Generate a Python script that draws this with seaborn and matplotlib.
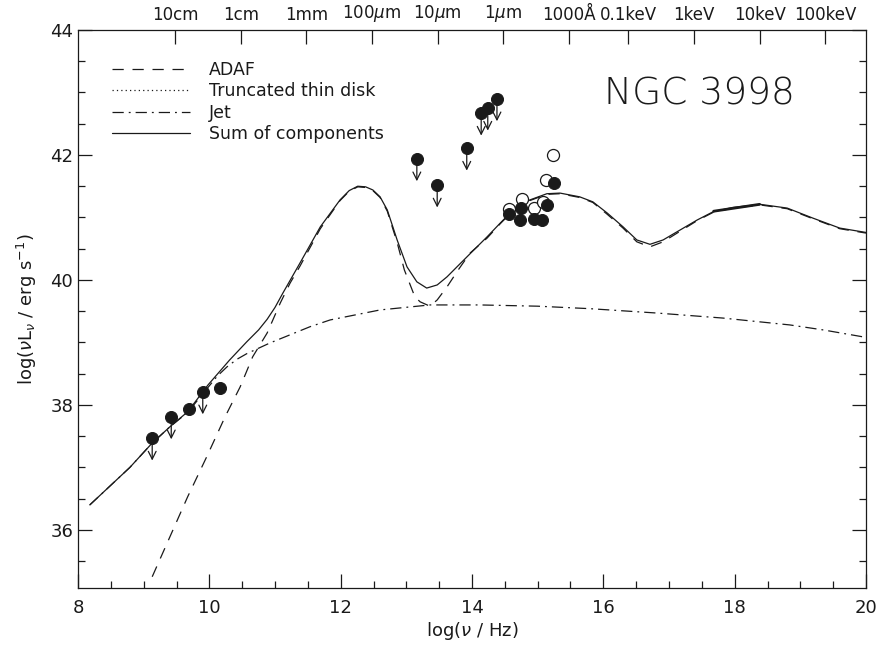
import numpy as np
import pandas as pd
import matplotlib
matplotlib.use("Agg")
import matplotlib.pyplot as plt
import seaborn as sns
from matplotlib.lines import Line2D

# ---------------- data ----------------
sum_x = [8.18, 8.79, 9.13, 9.40, 9.67, 9.98, 10.31, 10.57, 10.75, 10.88, 11.00, 11.12, 11.38, 11.69, 11.99,
         12.13, 12.26, 12.38, 12.49, 12.60, 12.71, 12.86, 13.01, 13.16, 13.31, 13.47, 13.62,
         13.80, 14.00, 14.23, 14.43, 14.58, 14.68, 14.88, 15.14, 15.34, 15.64, 15.84, 16.06,
         16.30, 16.51, 16.71, 16.91, 17.17, 17.43, 17.67, 17.97, 18.39, 18.80, 19.19, 19.60, 20.0]
sum_y = [36.40, 37.00, 37.39, 37.65, 37.89, 38.32, 38.72, 39.01, 39.20, 39.37, 39.56, 39.79, 40.27, 40.85, 41.28,
         41.43, 41.50, 41.49, 41.44, 41.33, 41.12, 40.64, 40.21, 39.97, 39.87, 39.92, 40.05,
         40.24, 40.45, 40.69, 40.91, 41.07, 41.17, 41.28, 41.38, 41.39, 41.33, 41.25, 41.07,
         40.85, 40.64, 40.57, 40.64, 40.80, 40.96, 41.09, 41.16, 41.21, 41.15, 40.99, 40.83, 40.76]

adaf_x = [9.13, 9.40, 9.67, 9.96, 10.24, 10.47, 10.66, 10.88, 11.08, 11.23, 11.38, 11.69, 11.99,
          12.13, 12.26, 12.38, 12.49, 12.60, 12.71, 12.86, 12.97, 13.13, 13.21, 13.36, 13.47,
          13.62, 13.79, 13.97, 14.23, 14.43, 14.58, 14.68, 14.88, 15.14, 15.34, 15.64, 15.84,
          16.06, 16.30, 16.51, 16.71, 16.91, 17.17, 17.43, 17.67, 17.97, 18.39, 18.80, 19.19,
          19.60, 20.0]
adaf_y = [35.25, 35.89, 36.53, 37.17, 37.81, 38.29, 38.77, 39.15, 39.63, 39.95, 40.22, 40.82, 41.27,
          41.42, 41.49, 41.48, 41.43, 41.32, 41.10, 40.60, 40.16, 39.73, 39.65, 39.58, 39.68,
          39.89, 40.16, 40.43, 40.67, 40.90, 41.06, 41.16, 41.27, 41.37, 41.38, 41.32, 41.24,
          41.05, 40.83, 40.61, 40.53, 40.61, 40.78, 40.95, 41.08, 41.15, 41.20, 41.14, 40.98,
          40.82, 40.75]

jet_x = [8.18, 8.79, 9.13, 9.40, 9.67, 9.98, 10.12, 10.27, 10.42, 10.57, 10.92, 11.53, 11.84, 12.60,
         13.36, 14.12, 15.00, 15.80, 16.82, 17.82, 18.84, 19.35, 19.95]
jet_y = [36.40, 37.00, 37.39, 37.65, 37.88, 38.28, 38.46, 38.61, 38.73, 38.82, 38.99, 39.25, 39.36, 39.52,
         39.60, 39.60, 39.58, 39.54, 39.47, 39.39, 39.28, 39.20, 39.09]

xray_x = [17.68, 18.38]
xray_y = [41.10, 41.21]

# upper limits (filled circles with arrows)
lim_x = [9.13, 9.42, 9.90, 13.16, 13.47, 13.92, 14.14, 14.24, 14.38]
lim_y = [37.47, 37.81, 38.21, 41.94, 41.52, 42.11, 42.67, 42.75, 42.90]
# detections (filled circles)
det_x = [9.69, 10.16, 14.56, 14.75, 14.73, 14.94, 15.06, 15.14, 15.25]
det_y = [37.94, 38.27, 41.06, 41.15, 40.96, 40.97, 40.96, 41.20, 41.55]
# open circles
open_x = [14.56, 14.76, 14.94, 15.08, 15.13, 15.23]
open_y = [41.14, 41.30, 41.15, 41.25, 41.60, 42.00]

top_pos = [9.477, 10.477, 11.477, 12.477, 13.477, 14.477, 15.477, 16.383, 17.383, 18.383, 19.383]
top_lab = ["10cm", "1cm", "1mm", r"100$\mu$m", r"10$\mu$m", r"1$\mu$m", "1000Å",
           "0.1keV", "1keV", "10keV", "100keV"]

legend_labels = ["ADAF", "Truncated thin disk", "Jet", "Sum of components"]

# ---------------- plot ----------------
sns.set_theme(style="white")
plt.rcParams['font.family'] = ['DejaVu Sans']
plt.rcParams['mathtext.fontset'] = 'dejavusans'
for k in ['text.color', 'axes.labelcolor', 'xtick.color', 'ytick.color', 'axes.edgecolor']:
    plt.rcParams[k] = 'black'

fig = plt.figure(figsize=(8.78, 6.53), dpi=100)
ax = fig.add_axes([78/878, 1-588/653, (866-78)/878, (588-30)/653])

lw = 0.9
sns.lineplot(x=sum_x, y=sum_y, ax=ax, color='k', lw=lw, sort=False, estimator=None)
sns.lineplot(x=adaf_x, y=adaf_y, ax=ax, color='k', lw=lw, sort=False, estimator=None,
             linestyle=(0, (9, 7)))
sns.lineplot(x=jet_x, y=jet_y, ax=ax, color='k', lw=lw, sort=False, estimator=None,
             linestyle=(0, (9, 4, 1.5, 4)))
sns.lineplot(x=xray_x, y=xray_y, ax=ax, color='k', lw=2.0, sort=False, estimator=None)

ms = 75
sns.scatterplot(x=open_x, y=open_y, ax=ax, s=ms, facecolor='white', edgecolor='k',
                linewidth=0.9, zorder=4)
sns.scatterplot(x=det_x, y=det_y, ax=ax, s=ms, color='k', edgecolor='k', zorder=5)
sns.scatterplot(x=lim_x, y=lim_y, ax=ax, s=ms, color='k', edgecolor='k', zorder=5)
for xx, yy in zip(lim_x, lim_y):
    ax.annotate('', xy=(xx, yy - 0.36), xytext=(xx, yy),
                arrowprops=dict(arrowstyle='->', lw=0.9, color='k',
                                mutation_scale=14, shrinkA=0, shrinkB=0), zorder=4)

ax.set_xlim(8, 20)
ax.set_ylim(35.07, 44)
ax.set_xticks([8, 10, 12, 14, 16, 18, 20])
ax.set_yticks([36, 38, 40, 42, 44])
ax.set_xticks(np.arange(8, 20.01, 0.5), minor=True)
ax.set_yticks(np.arange(35.5, 44.01, 0.5), minor=True)
ax.tick_params(axis='both', which='both', direction='in', color='k',
               labelsize=13, width=0.9, labelcolor='k')
ax.tick_params(axis='x', which='both', top=False, bottom=True)
ax.tick_params(axis='y', which='both', left=True, right=True)
ax.tick_params(which='major', length=10)
ax.tick_params(which='minor', length=5)
ax.tick_params(axis='x', pad=8)
for s in ax.spines.values():
    s.set_color('k')
    s.set_linewidth(0.9)

ax.set_xlabel(r'log($\nu$ / Hz)', fontsize=13, labelpad=2, color='k')
ax.set_ylabel(r'log($\nu$L$_\nu$ / erg s$^{-1}$)', fontsize=13, labelpad=8, color='k')

ax2 = ax.twiny()
ax2.set_xlim(ax.get_xlim())
ax2.set_xticks(top_pos)
ax2.set_xticklabels(top_lab)
ax2.tick_params(axis='x', direction='in', length=10, width=0.9, labelsize=12, pad=4,
                color='k', labelcolor='k')
ax2.grid(False)
for s in ax2.spines.values():
    s.set_visible(False)

ax.text(0.789, 0.885, "NGC 3998", transform=ax.transAxes, fontsize=27,
        ha='center', va='center', color='k', fontweight='light')

handles = [Line2D([], [], color='k', lw=lw, linestyle=(0, (9, 7))),
           Line2D([], [], color='k', lw=lw, linestyle=(0, (1, 2.5))),
           Line2D([], [], color='k', lw=lw, linestyle=(0, (9, 4, 1.5, 4))),
           Line2D([], [], color='k', lw=lw)]
leg = ax.legend(handles, legend_labels, loc='upper left', bbox_to_anchor=(0.043, 0.945),
                frameon=False, fontsize=12.5, handlelength=4.5, handletextpad=1.1,
                labelspacing=0.2, borderpad=0, borderaxespad=0)
for t in leg.get_texts():
    t.set_color('k')

fig.savefig("out.png", dpi=100)
